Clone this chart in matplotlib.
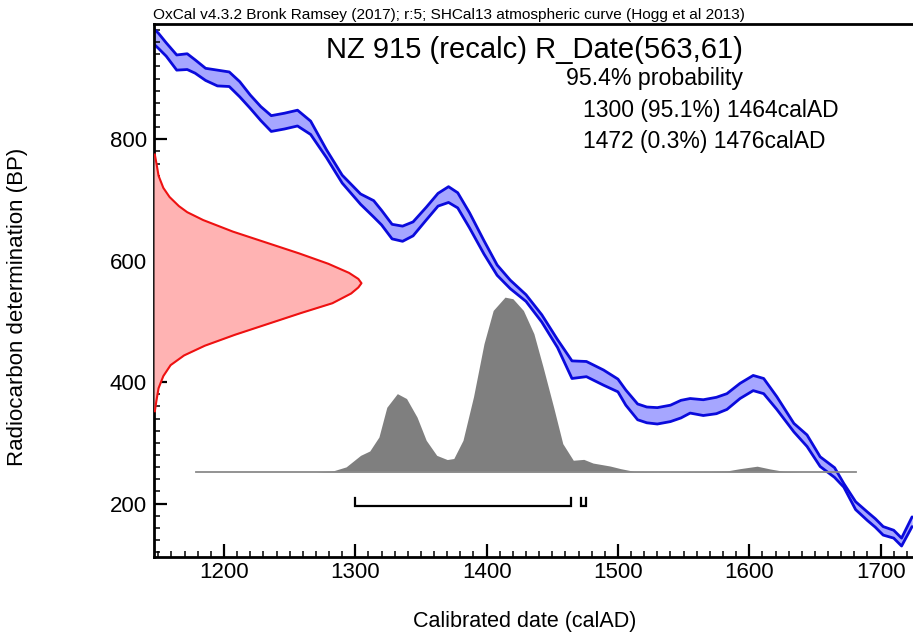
import matplotlib
matplotlib.use("Agg")
import matplotlib.pyplot as plt
from matplotlib.ticker import MultipleLocator

plt.rcParams['font.family'] = ['Liberation Sans', 'DejaVu Sans']

# ---------------- data ----------------
# calibration curve (SHCal13) 1-sigma band, cal AD vs BP
cal_years = [1146, 1150, 1156, 1164, 1172, 1178, 1186, 1195, 1204, 1212, 1220, 1228,
             1236, 1246, 1256, 1266, 1278, 1290, 1304, 1314, 1320, 1328, 1336, 1344,
             1354, 1363, 1371, 1378, 1387, 1398, 1408, 1418, 1430, 1442, 1454, 1465,
             1476, 1489, 1500, 1506, 1515, 1522, 1530, 1540, 1548, 1555, 1565, 1575,
             1583, 1593, 1603, 1611, 1621, 1634, 1644, 1654, 1665, 1672, 1681, 1690,
             1696, 1702, 1710, 1716, 1724]
cal_upper = [983, 975, 959, 939, 941, 931, 917, 914, 911, 895, 873, 854,
             839, 843, 848, 830, 783, 741, 710, 699, 683, 660, 657, 664,
             688, 711, 722, 712, 679, 633, 593, 568, 544, 511, 470, 435,
             434, 420, 405, 387, 364, 359, 358, 362, 370, 373, 371, 375,
             381, 398, 411, 406, 376, 332, 313, 277, 259, 233, 203, 186,
             175, 162, 156, 143, 178]
cal_lower = [958, 950, 937, 914, 915, 909, 897, 888, 887, 870, 851, 831,
             813, 817, 822, 808, 770, 728, 693, 672, 659, 636, 632, 641,
             667, 690, 696, 687, 654, 611, 576, 554, 533, 499, 457, 406,
             409, 395, 384, 362, 338, 333, 331, 335, 341, 349, 345, 348,
             355, 373, 386, 381, 355, 318, 294, 261, 243, 227, 190, 172,
             161, 148, 143, 130, 162]

# radiocarbon measurement distribution (BP, relative density)
r14_bp = [775, 760, 740, 720, 705, 690, 680, 667, 648, 630, 612, 595, 580, 570,
          563, 556, 546, 530, 514, 496, 478, 460, 444, 428, 410, 390, 370, 352]
r14_dens = [0.004, 0.012, 0.022, 0.045, 0.075, 0.12, 0.16, 0.237, 0.38, 0.54, 0.70,
            0.84, 0.94, 0.985, 1.0, 0.985, 0.95, 0.86, 0.71, 0.55, 0.39, 0.245,
            0.145, 0.08, 0.045, 0.022, 0.012, 0.004]

# calibrated distribution (cal AD, relative probability)
post_years = [1179, 1270, 1283, 1293, 1304, 1311, 1318, 1324, 1332, 1339, 1347, 1354,
              1362, 1370, 1375, 1382, 1390, 1398, 1405, 1414, 1420, 1428, 1436, 1443,
              1451, 1458, 1466, 1474, 1481, 1494, 1502, 1512, 1530, 1550, 1570, 1583,
              1593, 1606, 1616, 1626, 1640, 1681]
post_dens = [0.0, 0.0, 0.006, 0.029, 0.095, 0.12, 0.2, 0.37, 0.448, 0.42, 0.314, 0.181,
             0.095, 0.071, 0.077, 0.181, 0.43, 0.734, 0.924, 1.0, 0.991, 0.924, 0.791,
             0.6, 0.371, 0.162, 0.067, 0.072, 0.051, 0.034, 0.019, 0.004, 0.001,
             0.002, 0.003, 0.006, 0.019, 0.033, 0.017, 0.004, 0.0, 0.0]

# 95.4% ranges
range_starts = [1300, 1472]
range_ends = [1464, 1476]

header = "OxCal v4.3.2 Bronk Ramsey (2017); r:5; SHCal13 atmospheric curve (Hogg et al 2013)"
title = "NZ 915 (recalc) R_Date(563,61)"
prob_lines = ["95.4% probability", "1300 (95.1%) 1464calAD", "1472 (0.3%) 1476calAD"]

# ---------------- figure ----------------
W, H = 913, 641
fig = plt.figure(figsize=(W / 100, H / 100), dpi=100)
ax = fig.add_axes([154 / W, 1 - 556.7 / H, 1 - 154 / W, (556.7 - 24) / H])
xmin, xmax = 1146.7, 1724.7
ymin, ymax = 112.4, 990
ax.set_xlim(xmin, xmax)
ax.set_ylim(ymin, ymax)

# calibration band
ax.fill_between(cal_years, cal_lower, cal_upper, color='#a6a6ff', lw=0, zorder=1)
ax.plot(cal_years, cal_upper, color='#0a0adc', lw=2.0, zorder=2,
        solid_joinstyle='round', solid_capstyle='round')
ax.plot(cal_years, cal_lower, color='#0a0adc', lw=2.0, zorder=2,
        solid_joinstyle='round', solid_capstyle='round')

# radiocarbon date distribution on y axis
red_scale = 158.0
red_x = [xmin + d * red_scale for d in r14_dens]
ax.fill_betweenx(r14_bp, xmin, red_x, color='#ffb3b3', lw=0, zorder=3)
ax.plot(red_x, r14_bp, color='#ee1111', lw=1.5, zorder=4, solid_joinstyle='round')

# calibrated distribution
base = 252.0
gscale = 288.0
post_y = [base + d * gscale for d in post_dens]
ax.fill_between(post_years, base, post_y, color='#7f7f7f', lw=0, zorder=5)
ax.plot([post_years[0], post_years[-1]], [base, base], color='#8a8a8a', lw=1.3, zorder=6)

# range brackets
for s, e in zip(range_starts, range_ends):
    ax.plot([s, s, e, e], [208.5, 196, 196, 208.5], color='black', lw=1.6,
            zorder=7, solid_joinstyle='miter')

# axes styling
for side in ['left', 'bottom', 'top']:
    ax.spines[side].set_linewidth(2.0)
ax.spines['right'].set_visible(False)
ax.xaxis.set_major_locator(MultipleLocator(100))
ax.xaxis.set_minor_locator(MultipleLocator(10))
ax.yaxis.set_major_locator(MultipleLocator(200))
ax.yaxis.set_minor_locator(MultipleLocator(20))
ax.tick_params(which='major', direction='in', length=9.3, width=1.6, labelsize=16)
ax.tick_params(which='minor', direction='in', length=4.3, width=1.1)
ax.tick_params(axis='x', which='both', pad=3.6, top=False)
ax.tick_params(axis='y', which='both', pad=5, right=False)

# texts
fig.text(153 / W, 1 - 19 / H, header, ha='left', va='baseline', fontsize=11.1)
fig.text(534.5 / W, 1 - 58 / H, title, ha='center', va='baseline', fontsize=21)
fig.text(566 / W, 1 - 85 / H, prob_lines[0], ha='left', va='baseline', fontsize=16.7)
fig.text(583 / W, 1 - 117 / H, prob_lines[1], ha='left', va='baseline', fontsize=16.5)
fig.text(583 / W, 1 - 148 / H, prob_lines[2], ha='left', va='baseline', fontsize=16.5)

fig.text(18 / W, 1 - 306.5 / H, "Radiocarbon determination (BP)", rotation=90,
         ha='center', va='center', fontsize=16)
fig.text(525 / W, 1 - 622 / H, "Calibrated date (calAD)", ha='center', va='center',
         fontsize=15.5)

fig.savefig("out.png", dpi=100)
